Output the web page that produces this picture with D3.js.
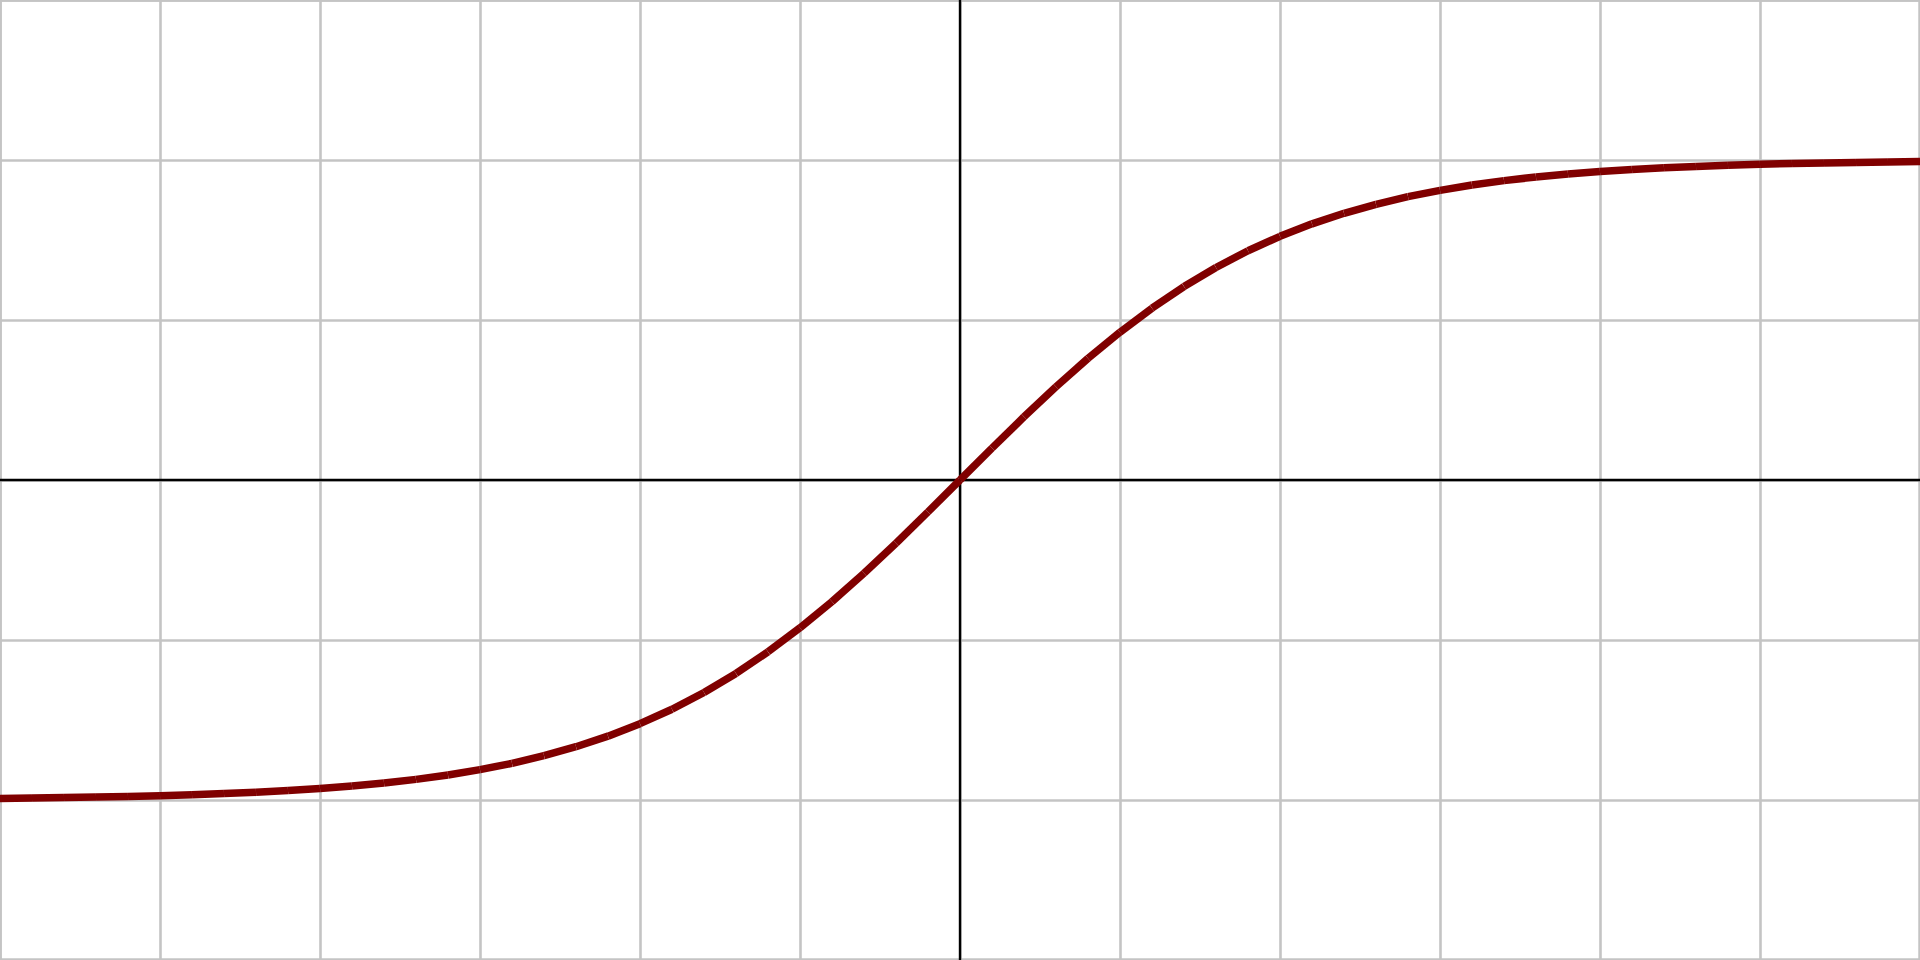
<!DOCTYPE html>
<html>
<head>
<meta charset="utf-8">
<script src="https://cdn.jsdelivr.net/npm/d3@7"></script>
<style>
html,body{margin:0;padding:0;background:#fff;overflow:hidden;}
svg{display:block;}
</style>
</head>
<body>
<svg id="chart" width="1920" height="960"></svg>
<script>
// Data
const xTicks = [-6,-5,-4,-3,-2,-1,0,1,2,3,4,5,6];
const yTicks = [-3,-2,-1,0,1,2,3];
const xValues = [
  -6.0,-5.8,-5.6,-5.4,-5.2,-5.0,-4.8,-4.6,-4.4,-4.2,
  -4.0,-3.8,-3.6,-3.4,-3.2,-3.0,-2.8,-2.6,-2.4,-2.2,
  -2.0,-1.8,-1.6,-1.4,-1.2,-1.0,-0.8,-0.6,-0.4,-0.2,
  0.0,
  0.2,0.4,0.6,0.8,1.0,1.2,1.4,1.6,1.8,2.0,
  2.2,2.4,2.6,2.8,3.0,3.2,3.4,3.6,3.8,4.0,
  4.2,4.4,4.6,4.8,5.0,5.2,5.4,5.6,5.8,6.0
];
const yValues = [
  -1.990,-1.988,-1.985,-1.982,-1.978,-1.973,-1.967,-1.960,-1.952,-1.941,
  -1.928,-1.912,-1.894,-1.871,-1.844,-1.810,-1.771,-1.723,-1.667,-1.601,
  -1.523,-1.433,-1.328,-1.209,-1.074,-0.924,-0.760,-0.583,-0.395,-0.199,
  0.000,
  0.199,0.395,0.583,0.760,0.924,1.074,1.209,1.328,1.433,1.523,
  1.601,1.667,1.723,1.771,1.810,1.844,1.871,1.894,1.912,1.928,
  1.941,1.952,1.960,1.967,1.973,1.978,1.982,1.985,1.988,1.990
];

const W = 1920, H = 960;
const svg = d3.select("#chart");
const x = d3.scaleLinear().domain([-6, 6]).range([0, W]);
const y = d3.scaleLinear().domain([-3, 3]).range([H, 0]);

// Grid via axes
const gx = svg.append("g").attr("transform", `translate(0,${H})`)
  .call(d3.axisBottom(x).tickValues(xTicks).tickSize(-H).tickFormat(""));
const gy = svg.append("g")
  .call(d3.axisLeft(y).tickValues(yTicks).tickSize(-W).tickFormat(""));
[gx, gy].forEach(g => {
  g.select(".domain").remove();
  g.selectAll(".tick line").attr("stroke", "#c4c4c4").attr("stroke-width", 2.6);
});
// border
svg.append("rect").attr("x", 0.75).attr("y", 0.75).attr("width", W - 1.5).attr("height", H - 1.5)
  .attr("fill", "none").attr("stroke", "#c4c4c4").attr("stroke-width", 2);

// Main axes
svg.append("line").attr("x1", x(-6)).attr("x2", x(6)).attr("y1", y(0)).attr("y2", y(0))
  .attr("stroke", "#000").attr("stroke-width", 2.4);
svg.append("line").attr("x1", x(0)).attr("x2", x(0)).attr("y1", y(-3)).attr("y2", y(3))
  .attr("stroke", "#000").attr("stroke-width", 2.4);

// Curve as consecutive segments
const pts = xValues.map((v, i) => [v, yValues[i]]);
const segs = d3.pairs(pts);
svg.append("g").selectAll("line").data(segs).join("line")
  .attr("x1", d => x(d[0][0])).attr("y1", d => y(d[0][1]))
  .attr("x2", d => x(d[1][0])).attr("y2", d => y(d[1][1]))
  .attr("stroke", "#800000").attr("stroke-width", 7.5).attr("stroke-linecap", "butt");
</script>
</body>
</html>
